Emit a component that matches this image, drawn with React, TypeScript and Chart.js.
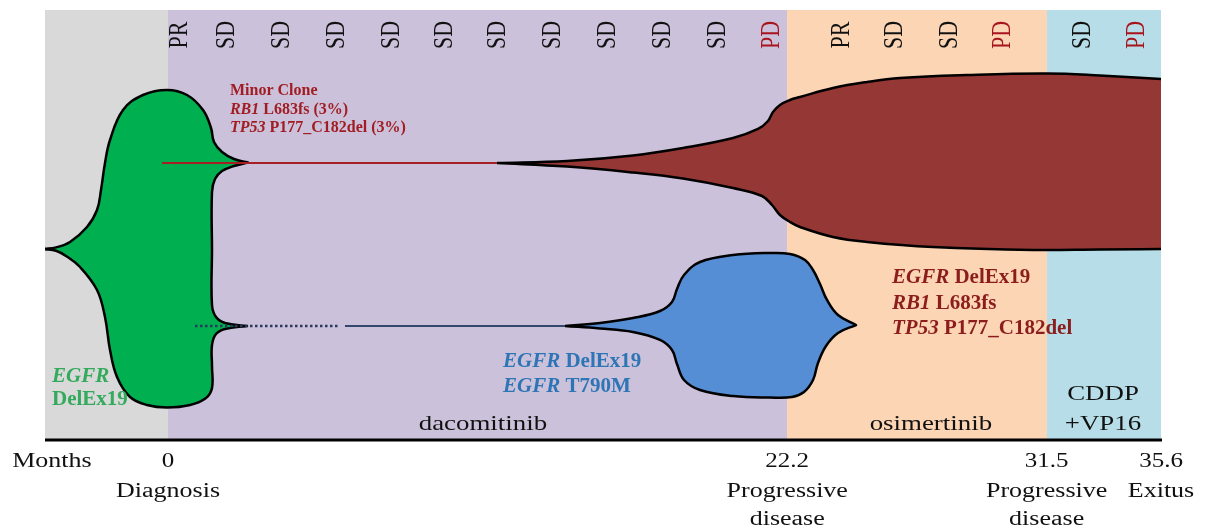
import React, { useEffect, useRef } from 'react';
import { Chart, registerables } from 'chart.js';

Chart.register(...registerables);

// ---------------- data (x: months, y: vertical level 0–100) ----------------
const axisStartMonth = -4.41;
const axisEndMonth = 35.6;

const phaseStartMonths = [-4.41, 0, 22.2, 31.5];
const phaseEndMonths = [0, 22.2, 31.5, 35.6];
const phaseColors = ['#d9d9d9', '#ccc1da', '#fcd5b5', '#b7dee8'];

const treatmentNames = [['dacomitinib'], ['osimertinib'], ['CDDP', '+VP16']];
const treatmentMonths = [11.29, 27.35, 33.52];

const responseMonths = [0.43, 2.12, 4.09, 6.06, 8.03, 9.93, 11.83, 13.8, 15.77, 17.75, 19.72, 21.65, 24.16, 26.06, 28.04, 29.94, 32.8, 34.74];
const responseLabels = ['PR', 'SD', 'SD', 'SD', 'SD', 'SD', 'SD', 'SD', 'SD', 'SD', 'SD', 'PD', 'PR', 'SD', 'SD', 'PD', 'SD', 'PD'];

const milestoneMonths = [0, 22.2, 31.5, 35.6];
const milestoneTicks = ['0', '22.2', '31.5', '35.6'];
const milestoneEvents = [['Diagnosis'], ['Progressive', 'disease'], ['Progressive', 'disease'], ['Exitus']];

// founder clone (EGFR DelEx19) outline [month, level]
const founderCloneOutline = [
  [-4.445, 44.42], [-4.015, 44.79], [-3.513, 46.05], [-2.904, 49.53], [-2.545, 53.49], [-2.402, 58.14],
  [-2.259, 64.42], [-2.079, 69.77], [-1.613, 76.74], [-0.896, 80.23], [-0.036, 81.4], [0.681, 80.23],
  [1.255, 76.74], [1.542, 72.56], [1.649, 69.3], [1.936, 66.98], [2.366, 65.35], [2.868, 64.53],
  [2.868, 64.53], [2.366, 63.72], [1.936, 62.56], [1.685, 60.7], [1.577, 57.67], [1.577, 44.19],
  [1.577, 31.4], [1.721, 28.6], [2.044, 27.21], [2.832, 26.51], [2.832, 26.51], [2.044, 25.81],
  [1.721, 24.65], [1.577, 22.09], [1.577, 17.21], [1.577, 12.09], [1.362, 9.77], [0.789, 8.14],
  [-0.036, 7.56], [-0.753, 8.14], [-1.362, 10.0], [-1.828, 14.65], [-2.079, 20.93], [-2.259, 28.6],
  [-2.545, 34.88], [-3.155, 40.23], [-3.657, 42.79], [-4.015, 44.0], [-4.445, 44.42],
];

// minor clone (RB1 / TP53) outline
const minorCloneOutline = [
  [11.795, 64.42], [14.305, 64.88], [16.671, 66.16], [18.463, 67.91], [20.256, 70.23], [21.152, 72.33],
  [21.511, 74.19], [21.69, 76.28], [21.941, 77.91], [22.299, 79.07], [22.658, 79.77], [23.841, 81.86],
  [25.06, 83.26], [26.243, 84.19], [28.645, 84.88], [31.513, 85.23], [33.413, 84.77], [36.281, 83.72],
  [36.281, 83.72], [36.281, 44.42], [36.281, 44.42], [33.413, 44.3], [31.011, 44.19], [27.426, 44.88],
  [25.06, 46.05], [23.841, 47.21], [22.658, 49.53], [22.299, 50.7], [21.941, 52.33], [21.654, 54.65],
  [21.295, 56.74], [20.256, 58.6], [18.463, 60.81], [16.671, 62.21], [14.305, 63.6], [11.795, 64.42],
];

// T790M clone outline
const t790mCloneOutline = [
  [14.233, 26.51], [15.488, 27.21], [16.671, 28.37], [17.639, 30.0], [18.069, 32.09], [18.248, 35.12],
  [18.499, 38.37], [19.073, 41.4], [20.256, 43.02], [21.582, 43.49], [22.299, 43.26], [22.837, 41.86],
  [23.124, 39.53], [23.375, 36.28], [23.626, 32.56], [24.02, 29.07], [24.666, 26.74], [24.666, 26.74],
  [24.02, 24.88], [23.59, 21.86], [23.303, 17.91], [23.124, 13.95], [22.801, 11.16], [22.371, 10.0],
  [21.582, 9.88], [20.256, 10.23], [19.073, 11.63], [18.499, 13.95], [18.248, 17.67], [18.069, 20.93],
  [17.639, 23.26], [16.671, 25.12], [15.488, 25.93], [14.233, 26.51],
];

const minorCloneStem = [[-0.215, 64.42], [11.795, 64.42]];
const t790mStemDotted = [[0.968, 26.51], [6.166, 26.51]];
const t790mStem = [[6.346, 26.51], [14.233, 26.51]];

// clone notes: runs of [text, italic]
const minorCloneNote = [
  [['Minor Clone', false]],
  [['RB1', true], [' L683fs (3%)', false]],
  [['TP53', true], [' P177_C182del (3%)', false]],
];
const resistantCloneNote = [
  [['EGFR', true], [' DelEx19', false]],
  [['RB1', true], [' L683fs', false]],
  [['TP53', true], [' P177_C182del', false]],
];
const t790mNote = [
  [['EGFR', true], [' DelEx19', false]],
  [['EGFR', true], [' T790M', false]],
];
const founderNote = [[['EGFR', true]], [['DelEx19', false]]];

// ---------------- drawing ----------------
const SERIF = '"Liberation Serif", "Times New Roman", serif';

const notes = [
  { lines: minorCloneNote, month: 2.22, level: 80.23, size: 16, lh: 18.5, color: '#a11d24' },
  { lines: resistantCloneNote, month: 25.956, level: 36.51, size: 21, lh: 25.5, color: '#8c1d1d' },
  { lines: t790mNote, month: 12.01, level: 16.98, size: 21, lh: 25, color: '#2e75b6' },
  { lines: founderNote, month: -4.159, level: 13.49, size: 21, lh: 23, color: '#33aa5c' },
];

function scaledText(ctx: CanvasRenderingContext2D, s: string, x: number, y: number, font: string, color: string, align: CanvasTextAlign, sx: number) {
  ctx.save();
  ctx.font = font;
  ctx.fillStyle = color;
  ctx.textAlign = align;
  ctx.textBaseline = 'alphabetic';
  ctx.translate(x, y);
  ctx.scale(sx, 1);
  ctx.fillText(s, 0, 0);
  ctx.restore();
}

const decorPlugin = {
  id: 'fishDecor',
  beforeDatasetsDraw(chart: any) {
    const { ctx, chartArea: a, scales } = chart;
    const x = scales.x;
    ctx.save();
    phaseStartMonths.forEach((s, i) => {
      const x0 = Math.round(x.getPixelForValue(s));
      const x1 = Math.round(x.getPixelForValue(phaseEndMonths[i]));
      ctx.fillStyle = phaseColors[i];
      ctx.fillRect(x0, a.top, x1 - x0, a.bottom - a.top);
    });
    ctx.restore();
  },
  afterDatasetsDraw(chart: any) {
    const { ctx, chartArea: a, scales } = chart;
    const x = scales.x;
    const y = scales.y;
    ctx.save();
    // axis line
    ctx.fillStyle = '#000';
    ctx.fillRect(a.left, a.bottom - 1.5, a.right - a.left + 1, 3);

    // response evaluations (rotated)
    responseMonths.forEach((m, i) => {
      const px = x.getPixelForValue(m);
      ctx.save();
      ctx.translate(px, a.top + 25);
      ctx.rotate(-Math.PI / 2);
      ctx.scale(1, 1.22);
      ctx.font = `22px ${SERIF}`;
      ctx.textAlign = 'center';
      ctx.textBaseline = 'middle';
      ctx.fillStyle = responseLabels[i] === 'PD' ? '#a8141c' : '#111111';
      ctx.fillText(responseLabels[i], 0, 0);
      ctx.restore();
    });

    // clone notes
    notes.forEach((n) => {
      let py = y.getPixelForValue(n.level);
      const px0 = x.getPixelForValue(n.month);
      n.lines.forEach((line: any) => {
        let cx = px0;
        line.forEach(([s, it]: [string, boolean]) => {
          ctx.font = `${it ? 'italic ' : ''}bold ${n.size}px ${SERIF}`;
          ctx.fillStyle = n.color;
          ctx.textAlign = 'left';
          ctx.textBaseline = 'alphabetic';
          ctx.fillText(s, cx, py);
          cx += ctx.measureText(s).width;
        });
        py += n.lh;
      });
    });

    // treatments
    treatmentNames.forEach((lines, i) => {
      const px = x.getPixelForValue(treatmentMonths[i]);
      lines.forEach((s, j) => {
        const py = a.bottom - 10 - (lines.length - 1 - j) * 30;
        scaledText(ctx, s, px, py, `21px ${SERIF}`, '#111111', 'center', 1.28);
      });
    });

    // bottom axis labels
    scaledText(ctx, 'Months', x.getPixelForValue(-4.16), a.bottom + 27, `20px ${SERIF}`, '#111111', 'center', 1.3);
    milestoneMonths.forEach((m, i) => {
      const px = x.getPixelForValue(m);
      scaledText(ctx, milestoneTicks[i], px, a.bottom + 27, `20px ${SERIF}`, '#111111', 'center', 1.25);
      milestoneEvents[i].forEach((s, j) => {
        scaledText(ctx, s, px, a.bottom + 57 + j * 28, `20px ${SERIF}`, '#111111', 'center', 1.3);
      });
    });
    ctx.restore();
  },
};

const pts = (arr: number[][]) => arr.map(([mx, lv]) => ({ x: mx, y: lv }));

export default function App() {
  const ref = useRef<HTMLCanvasElement>(null);
  useEffect(() => {
    if (!ref.current) return;
    const shape = { fill: 'shape', borderColor: '#000000', borderWidth: 2.5, tension: 0.4, pointRadius: 0, borderJoinStyle: 'round' };
    const chart = new Chart(ref.current, {
      type: 'line',
      data: {
        datasets: [
          { ...shape, label: 'EGFR DelEx19', data: pts(founderCloneOutline), backgroundColor: '#00b050', order: 3 },
          { ...shape, label: 'Minor clone', data: pts(minorCloneOutline), backgroundColor: '#953735', order: 2 },
          { ...shape, label: 'EGFR T790M', data: pts(t790mCloneOutline), backgroundColor: '#558ed5', order: 1 },
          { label: 'minor stem', data: pts(minorCloneStem), borderColor: '#a61f22', borderWidth: 2, fill: false, tension: 0, pointRadius: 0, order: 0 },
          { label: 't790m stem dotted', data: pts(t790mStemDotted), borderColor: '#2b3a5c', borderWidth: 2.5, borderDash: [2.5, 2.5], fill: false, tension: 0, pointRadius: 0, order: 0 },
          { label: 't790m stem', data: pts(t790mStem), borderColor: '#33466b', borderWidth: 2, fill: false, tension: 0, pointRadius: 0, order: 0 },
        ] as any,
      },
      options: {
        animation: false,
        responsive: false,
        events: [],
        layout: { padding: { left: 45, right: 48, top: 10, bottom: 88 } },
        elements: { line: { capBezierPoints: false } },
        scales: {
          x: { type: 'linear', min: axisStartMonth, max: axisEndMonth, display: false },
          y: { type: 'linear', min: 0, max: 100, display: false },
        },
        plugins: { legend: { display: false }, tooltip: { enabled: false } },
      },
      plugins: [decorPlugin],
    } as any);
    return () => chart.destroy();
  }, []);
  return (
    <div style={{ position: 'fixed', left: 0, top: 0, width: 1209, height: 528, background: '#ffffff' }}>
      <canvas ref={ref} width={1209} height={528} style={{ display: 'block', width: 1209, height: 528 }} />
    </div>
  );
}
